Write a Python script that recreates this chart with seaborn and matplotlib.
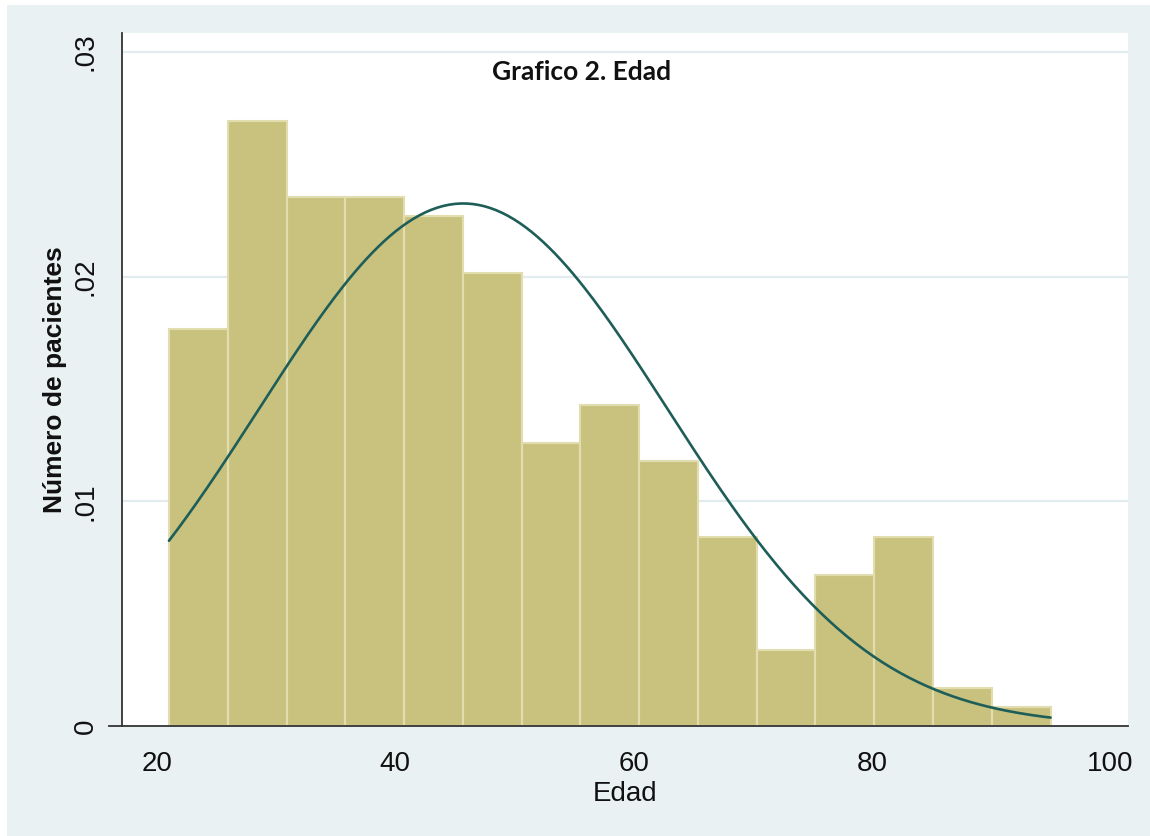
import numpy as np
import pandas as pd
import seaborn as sns
import matplotlib.pyplot as plt
from matplotlib.patches import Rectangle

# Histogram of age (Edad): 15 bins from 21 to 95, patient counts per bin
bin_edges = np.linspace(21, 95, 16).tolist()
bin_counts = [21, 32, 28, 28, 27, 24, 15, 17, 14, 10, 4, 8, 10, 2, 1]

# normal overlay (peak ~45.7, height ~.0233)
norm_mean = 45.7
norm_sd = 17.15

y_ticks = [0, 0.01, 0.02, 0.03]
y_ticklabels = ["0", ".01", ".02", ".03"]
x_ticks = [20, 40, 60, 80, 100]

bar_color = "#C9C27F"
bar_edge = "#E2DDAE"
line_color = "#1E5E58"
bg_color = "#EAF1F3"
grid_color = "#E2EBEE"

sns.set_style("white")
plt.rcParams["font.family"] = ["Liberation Sans", "DejaVu Sans"]

edges = np.array(bin_edges)
bin_mid = (edges[:-1] + edges[1:]) / 2
df = pd.DataFrame({"edad": bin_mid, "n": bin_counts})

fig = plt.figure(figsize=(11.5, 8.36), dpi=100)
fig.patch.set_facecolor("white")
fig.patches.append(Rectangle((0.006, 0.0), 0.994, 0.994, transform=fig.transFigure,
                             facecolor=bg_color, edgecolor="none", zorder=-10))
ax = fig.add_axes([0.1061, 0.1316, 0.8748, 0.8289])
ax.set_facecolor("white")

for yv in y_ticks[1:]:
    ax.axhline(yv, color=grid_color, lw=1.6, zorder=0)

sns.histplot(data=df, x="edad", weights="n", bins=bin_edges, stat="density",
             color=bar_color, edgecolor=bar_edge, linewidth=1.5, alpha=1, ax=ax, zorder=2)

xs = np.linspace(edges[0], edges[-1], 300)
curve = pd.DataFrame({"x": xs,
                      "y": np.exp(-(xs - norm_mean) ** 2 / (2 * norm_sd ** 2)) / (norm_sd * np.sqrt(2 * np.pi))})
sns.lineplot(data=curve, x="x", y="y", color=line_color, lw=1.9, ax=ax, zorder=3)

ax.set_xlim(17.06, 101.5)
ax.set_ylim(0, 0.03085)
ax.set_xticks(x_ticks)
ax.set_yticks(y_ticks)
ax.set_yticklabels(y_ticklabels, rotation=90, va="center")
ax.tick_params(axis="both", direction="out", length=9, width=1.2, color="#333333",
               labelsize=20, labelcolor="#111111")
ax.tick_params(axis="y", pad=8)
ax.tick_params(axis="x", pad=9)

for s in ["top", "right"]:
    ax.spines[s].set_visible(False)
for s in ["left", "bottom"]:
    ax.spines[s].set_color("#333333")
    ax.spines[s].set_linewidth(1.3)
ax.spines["bottom"].set_bounds(16.0, 101.5)

ax.set_xlabel("Edad", fontsize=20, labelpad=3, color="#111111")
ax.set_ylabel("Número de pacientes", fontsize=19, fontweight="bold", labelpad=4, color="#111111")

ax.text(0.457, 0.944, "Grafico 2. Edad", transform=ax.transAxes, ha="center", va="center",
        fontsize=19, fontweight="bold", family=["Lato", "DejaVu Sans"], color="#111111")

fig.savefig("out.png", dpi=100, facecolor=fig.get_facecolor())
